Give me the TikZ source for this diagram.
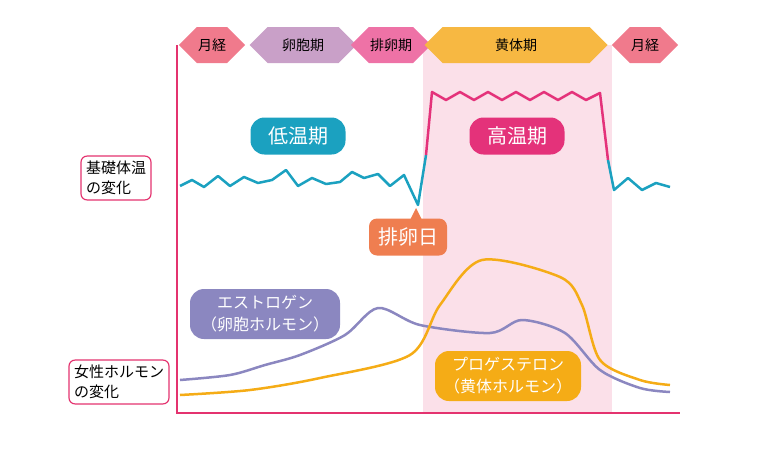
\documentclass[tikz,border=0pt]{standalone}
\usepackage{fontspec}
\setmainfont{Noto Sans CJK JP}
\usetikzlibrary{shapes.arrows,shapes.misc}
\definecolor{axispink}{HTML}{E4336F}
\definecolor{mensred}{HTML}{F07A8C}
\definecolor{follpurple}{HTML}{C9A0C8}
\definecolor{ovupink}{HTML}{EE72A6}
\definecolor{lutorange}{HTML}{F7B842}
\definecolor{lowblue}{HTML}{1BA1C0}
\definecolor{highred}{HTML}{E4327A}
\definecolor{dayorange}{HTML}{EF7E50}
\definecolor{estpurple}{HTML}{8B87C0}
\definecolor{proorange}{HTML}{F5AC16}
\tikzstyle{phase}=[double arrow,double arrow head extend=0pt,minimum height=#1,minimum width=36pt,inner sep=1pt,text=black,font=\fontsize{14}{14}\selectfont]
\tikzstyle{side}=[draw=axispink,line width=1.2pt,rounded corners=6pt,fill=white,align=left,font=\fontsize{15}{20}\selectfont,inner sep=5pt]
\tikzstyle{bubble}=[rounded corners=14pt,text=white,font=\fontsize{20}{22}\selectfont,minimum width=95pt,minimum height=37pt]
\tikzstyle{curve}=[line width=2.5pt,line join=round]
\begin{document}
\begin{tikzpicture}[x=1pt,y=-1pt]
\useasboundingbox (0,0) rectangle (760,450);
\fill[axispink!15] (423,45) rectangle (612,413);

\draw[axispink,line width=1.5pt] (177,45) -- (177,413) -- (680,413);

\node (m1) [phase=65pt,fill=mensred] at (212,45) {月経};
\node (fol) [phase=107pt,fill=follpurple] at (303,45) {卵胞期};
\node (ovu) [phase=58pt,fill=ovupink] at (391,45) {排卵期};
\node (lut) [phase=183pt,fill=lutorange] at (516,45) {黄体期};
\node (m2) [phase=66pt,fill=mensred] at (645,45) {月経};

\node (bbt) [side] at (116,178) {基礎体温\\の変化};
\node (hor) [side] at (119,382) {女性ホルモン\\の変化};

% basal temperature
\draw[curve,lowblue] (180,186) -- (192,180) -- (204,187) -- (218,176) -- (230,186) -- (244,177) -- (258,183) -- (272,180) -- (286,170) -- (298,186) -- (312,178) -- (326,184) -- (340,182) -- (352,172) -- (364,178) -- (378,174) -- (390,186) -- (404,175) -- (418,205) -- (426,155);
\draw[curve,highred] (426,155) -- (432,92) -- (446,100) -- (460,92) -- (474,100) -- (488,92) -- (502,100) -- (516,92) -- (530,100) -- (544,92) -- (558,100) -- (572,92) -- (586,100) -- (600,93) -- (608,160);
\draw[curve,lowblue] (608,160) -- (614,190) -- (628,178) -- (642,190) -- (656,183) -- (670,187);

\node (low) [bubble,fill=lowblue] at (298,136) {低温期};
\node (high) [bubble,fill=highred] at (517,136) {高温期};
\node (day) [fill=dayorange,text=white,rounded corners=8pt,font=\fontsize{20}{22}\selectfont,minimum width=78pt,minimum height=37pt] at (408,237) {排卵日};
\fill[dayorange] (410,220) -- (416,208) -- (422,220) -- cycle;

% hormones
\draw[curve,estpurple] plot[smooth,tension=0.5] coordinates {(180,380) (230,375) (265,365) (300,355) (345,335) (378,308) (420,325) (490,333) (522,320) (565,333) (600,370) (640,388) (670,392)};
\draw[curve,proorange] plot[smooth,tension=0.5] coordinates {(180,395) (250,390) (320,378) (410,355) (440,305) (482,260) (560,277) (582,305) (600,360) (640,380) (670,385)};

\node (est) [bubble,fill=estpurple,align=center,font=\fontsize{16}{22}\selectfont,minimum width=150pt,minimum height=50pt] at (265,314) {エストロゲン\\（卵胞ホルモン）};
\node (pro) [bubble,fill=proorange,align=center,font=\fontsize{16}{22}\selectfont,minimum width=146pt,minimum height=50pt] at (508,376) {プロゲステロン\\（黄体ホルモン）};
\end{tikzpicture}
\end{document}
